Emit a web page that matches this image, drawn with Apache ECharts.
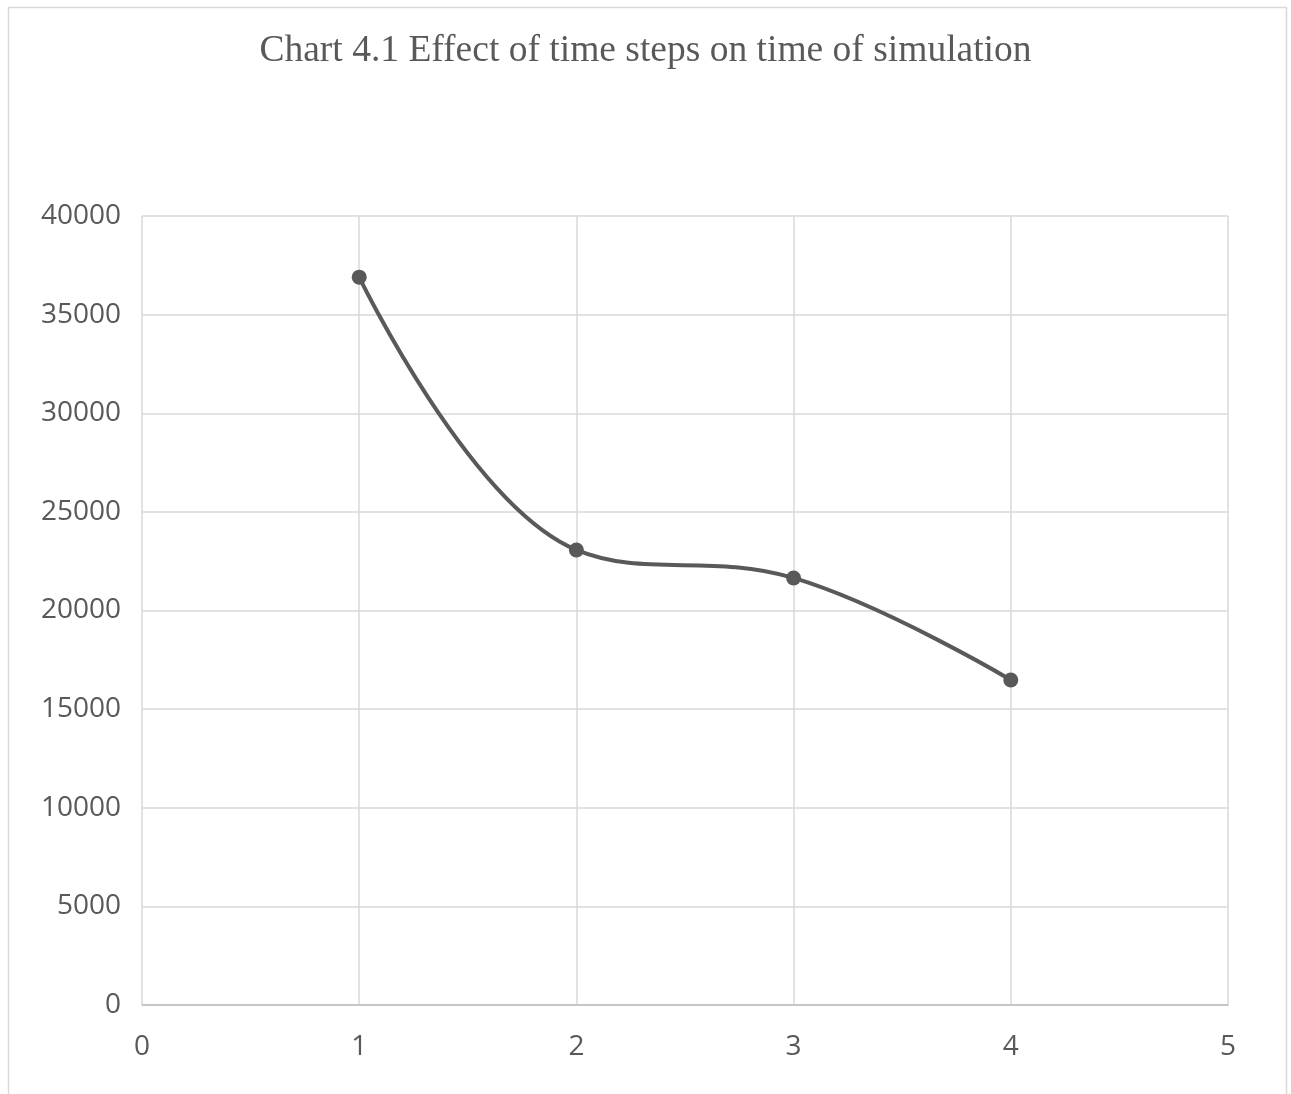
<!DOCTYPE html>
<html><head><meta charset="utf-8">
<script src="https://cdn.jsdelivr.net/npm/echarts@6/dist/echarts.min.js"></script>
<style>html,body{margin:0;padding:0;background:#fff}#c{width:1291px;height:1094px}</style>
</head><body><div id="c"></div>
<script>
const titleText = 'Chart 4.1 Effect of time steps on time of simulation';
const xValues = [1, 2, 3, 4];
const yValues = [36900, 23070, 21650, 16480];
const xTicks = [0, 1, 2, 3, 4, 5];
const yTicks = [0, 5000, 10000, 15000, 20000, 25000, 30000, 35000, 40000];

const chart = echarts.init(document.getElementById('c'), null, {renderer: 'canvas'});
chart.setOption({
  backgroundColor: '#fff',
  animation: false,
  graphic: [{type: 'rect', shape: {x: 8.5, y: 7.5, width: 1278, height: 1100}, style: {fill: 'none', stroke: '#d9d9d9', lineWidth: 1.5}, z: -1}],
  title: {text: titleText, left: 'center', top: 27, textStyle: {fontFamily: 'Liberation Serif', fontSize: 37.5, fontWeight: 'normal', color: '#595959'}},
  grid: {left: 142, right: 63, top: 216, bottom: 89, containLabel: false},
  xAxis: {type: 'value', min: xTicks[0], max: xTicks[xTicks.length-1], interval: 1,
    axisLine: {show: true, lineStyle: {color: '#bfbfbf', width: 1.5}}, axisTick: {show: false},
    axisLabel: {color: '#595959', fontFamily: 'Open Sans', fontSize: 28, margin: 28, formatter: v => String(v)},
    splitLine: {show: true, lineStyle: {color: '#d9d9d9', width: 1.5}}},
  yAxis: {type: 'value', min: yTicks[0], max: yTicks[yTicks.length-1], interval: 5000,
    axisLine: {show: false}, axisTick: {show: false},
    axisLabel: {color: '#595959', fontFamily: 'Open Sans', fontSize: 28, margin: 21, formatter: v => String(v)},
    splitLine: {show: true, lineStyle: {color: '#d9d9d9', width: 1.5}}},
  series: [{type: 'line', data: xValues.map((x, i) => [x, yValues[i]]), smooth: 0.4,
    symbol: 'circle', symbolSize: 15, lineStyle: {color: '#595959', width: 4},
    itemStyle: {color: '#595959'}}]
});
</script></body></html>
